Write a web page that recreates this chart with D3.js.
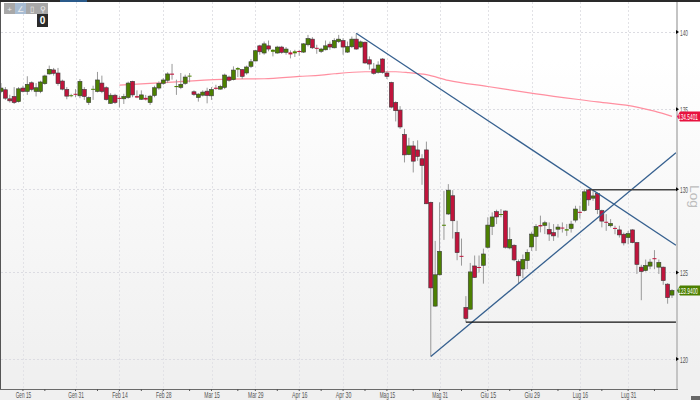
<!DOCTYPE html>
<html><head><meta charset="utf-8">
<script src="https://cdn.jsdelivr.net/npm/d3@7"></script>
<style>html,body{margin:0;padding:0;background:#fff}svg{display:block}text{font-family:"Liberation Sans Narrow","Liberation Sans",sans-serif}</style>
</head><body><div id="c"></div>
<script>
const open=[136.13,136.24,135.66,135.81,135.48,136.35,136.13,136.69,136.13,136.13,136.63,137.26,137.52,137.32,136.80,136.26,135.85,135.98,135.85,136.26,135.42,136.28,136.13,136.67,136.37,135.37,135.89,135.72,135.66,135.74,136.78,135.83,135.63,135.72,135.42,135.87,136.35,136.65,136.85,137.28,136.41,136.39,136.65,137.11,136.11,135.74,135.89,136.15,135.85,136.37,136.28,136.39,137.06,136.89,137.54,137.54,137.32,137.75,138.10,139.09,138.62,139.09,138.70,138.62,139.01,138.66,138.66,138.60,138.75,138.68,139.16,139.53,138.96,138.73,138.83,139.20,138.96,139.37,139.44,138.68,139.03,139.53,139.01,139.33,138.18,137.58,137.36,138.23,137.32,136.71,135.43,134.94,133.40,132.14,132.68,132.43,131.88,132.43,129.20,123.03,124.86,127.80,128.49,129.60,127.38,125.98,122.95,122.85,125.38,125.32,125.42,126.49,127.74,128.63,128.45,128.67,126.45,126.61,125.64,125.20,125.70,126.51,127.14,127.82,127.80,127.56,127.37,127.57,127.67,127.49,127.61,128.12,128.62,128.69,129.96,129.45,129.74,128.69,128.02,127.78,127.65,127.53,127.27,127.07,127.53,126.77,125.31,125.11,125.37,125.84,125.31,125.31,124.31,123.67];
const high=[136.67,136.41,135.92,136.41,136.41,136.50,137.11,136.78,136.67,136.82,137.21,137.80,137.65,137.65,136.89,136.41,135.98,136.28,136.93,136.41,135.81,136.50,137.39,137.15,136.46,136.02,135.98,135.85,135.98,136.76,136.82,136.20,136.20,135.91,135.91,136.50,136.78,137.00,137.37,137.91,136.89,137.32,137.21,137.32,136.20,136.02,136.20,136.37,136.41,136.56,136.56,137.28,137.15,137.75,137.71,137.58,137.80,138.23,138.83,139.16,139.37,139.44,138.88,139.09,139.09,139.01,138.79,138.83,138.83,139.27,139.81,139.66,139.16,138.96,139.44,139.37,139.59,139.81,139.59,139.37,139.70,139.91,139.44,139.37,138.40,137.97,138.08,138.29,137.43,136.76,135.50,135.19,133.75,133.19,132.99,133.03,132.16,132.95,129.24,126.87,129.20,129.90,130.31,129.94,128.08,127.01,123.61,125.56,126.00,126.00,126.41,128.29,128.59,128.75,128.79,128.71,127.68,126.67,125.76,126.06,126.37,127.42,127.88,128.39,128.08,127.98,127.88,127.88,127.98,127.88,128.08,128.99,128.99,130.00,130.00,130.00,129.80,128.75,128.48,128.18,127.78,127.78,127.37,127.47,127.57,126.81,125.45,125.76,125.80,126.32,125.76,125.35,124.37,124.02];
const low=[136.02,135.59,135.42,135.33,135.42,136.07,135.91,136.13,135.81,136.02,136.56,137.21,137.15,136.50,136.20,135.63,135.76,135.76,135.70,135.59,135.27,135.59,136.07,136.02,135.55,135.33,135.33,135.11,135.33,135.66,135.76,135.70,135.59,135.55,135.27,135.76,136.24,136.56,136.67,136.89,135.91,136.28,136.56,136.72,135.85,135.48,135.81,135.37,135.59,136.24,136.24,136.28,136.76,136.84,137.06,136.93,137.21,137.64,138.08,138.51,138.51,138.73,138.40,138.57,138.57,138.51,138.27,138.36,138.44,138.62,139.05,138.88,138.57,138.62,138.79,138.83,138.92,139.27,138.51,138.62,138.94,138.83,138.94,137.92,137.54,137.21,137.28,137.28,136.93,135.05,134.22,133.75,131.65,132.10,131.03,131.75,130.27,129.09,120.14,122.99,124.82,126.93,128.43,127.01,125.72,125.40,122.10,122.83,124.67,124.99,124.34,126.41,127.22,127.88,128.29,126.41,126.37,125.66,124.38,124.67,125.20,126.27,126.27,127.38,127.28,126.87,126.87,127.07,127.37,127.17,127.37,127.98,128.22,128.64,128.99,129.29,128.48,127.68,127.47,127.68,127.27,127.07,126.60,126.67,126.73,124.91,123.37,125.05,125.19,125.19,124.91,124.27,123.17,123.50];
const close=[136.35,135.70,135.53,135.42,136.30,136.13,136.59,136.26,136.37,136.74,137.13,137.56,137.30,136.63,136.28,135.83,135.89,135.94,136.78,135.81,135.74,136.30,136.87,136.13,135.61,135.89,135.42,135.68,135.81,136.67,135.91,135.74,135.91,135.61,135.83,136.37,136.65,136.87,137.26,137.21,136.48,136.59,137.06,137.15,135.94,135.96,136.09,135.87,136.26,136.30,136.46,137.19,136.85,137.51,137.64,137.10,137.71,138.05,138.77,138.70,139.22,138.88,138.83,139.01,138.66,138.88,138.53,138.73,138.70,139.22,139.57,138.96,138.92,138.88,139.09,139.01,139.44,139.53,139.01,139.05,139.53,138.88,139.35,137.97,137.90,137.30,137.84,137.36,137.10,135.13,134.90,133.87,132.12,132.68,131.73,132.02,131.46,129.11,124.09,124.86,126.25,127.84,129.94,128.08,126.17,125.92,122.31,125.03,124.70,125.28,126.09,127.82,128.31,128.31,128.49,126.49,126.95,125.74,124.80,125.76,126.19,127.28,127.74,127.74,127.96,127.28,127.17,127.70,127.61,127.57,127.88,128.79,128.56,129.84,129.35,129.59,128.75,128.06,127.96,127.92,127.61,127.23,126.75,127.31,126.77,125.47,125.05,125.41,125.61,125.78,125.59,124.52,123.52,123.94];
const maIndex=[27,40,52,60,68,73,76,83,90,93,97,102,111,122,136,145,149,153];
const maValues=[136.54,136.75,136.93,136.95,137.10,137.18,137.27,137.40,137.40,137.34,137.21,136.84,136.45,135.98,135.46,135.13,134.87,134.54];
const yTicks=[140,135,130,125,120];
const dateIndex=[5,17,27,37,48,58,68,78,88,100,111,121,132,143];
const dateLabels=["Gen 15","Gen 31","Feb 14","Feb 28","Mar 15","Mar 29","Apr 16","Apr 30","Mag 15","Mag 31","Giu 15","Giu 29","Lug 16","Lug 31"];
const minorIndex=[10,22,32,43,54,63,73,83,94,105,116,127,137,149];
const blueLineIndex=[[81,153.9],[98,153.9]];
const blueLinePrice=[[139.92,126.61],[120.14,132.26]];
const blackLineIndex=[[134,153.9],[106,153.9]];
const blackLinePrice=[[129.96,129.96],[122.1,122.1]];
const lastClose="123.9400", lastMA="134.5401";

const W=700,H=400,pr=676,pb=389;
const x=d3.scaleLinear().domain([0,153]).range([1,672]);
const y=d3.scaleLog().domain([140,120]).range([32,359]);
const svg=d3.select("#c").append("svg").attr("width",W).attr("height",H);
const defs=svg.append("defs");
const g=defs.append("linearGradient").attr("id","bg").attr("x1",0).attr("x2",0).attr("y1",0).attr("y2",1);
g.append("stop").attr("offset","15%").attr("stop-color","#fff");
g.append("stop").attr("offset","92%").attr("stop-color","#f0f0f0");
svg.append("rect").attr("width",W).attr("height",H).attr("fill","url(#bg)");
svg.append("rect").attr("y",389).attr("width",W).attr("height",11).attr("fill","#f0f0f0");

// grid
svg.append("g").selectAll("line").data(yTicks).join("line")
 .attr("x1",1).attr("x2",pr).attr("y1",d=>Math.round(y(d))+.5).attr("y2",d=>Math.round(y(d))+.5)
 .attr("stroke","#dcdce2").attr("stroke-dasharray","2,2");
svg.append("g").selectAll("line").data(dateIndex).join("line")
 .attr("x1",d=>Math.round(x(d))+.5).attr("x2",d=>Math.round(x(d))+.5).attr("y1",2).attr("y2",pb)
 .attr("stroke","#e2e2e6").attr("stroke-dasharray","2,2");

// MA
const ma=d3.line().x((d,i)=>x(maIndex[i])).y(d=>y(d)).curve(d3.curveMonotoneX);
svg.append("path").attr("d",ma(maValues)).attr("fill","none").attr("stroke","#ff8fa0").attr("stroke-width",1.2);

// candles
const idx=d3.range(open.length);
const cg=svg.append("g");
cg.selectAll("line").data(idx).join("line")
 .attr("x1",i=>x(i)).attr("x2",i=>x(i)).attr("y1",i=>y(high[i])).attr("y2",i=>y(low[i]))
 .attr("stroke","#999").attr("stroke-width",1);
const isUp=i=>close[i]>=open[i];
cg.selectAll("rect").data(idx).join("rect")
 .attr("x",i=>x(i)-2).attr("width",4)
 .attr("y",i=>y(Math.max(open[i],close[i])))
 .attr("height",i=>Math.max(1,Math.abs(y(open[i])-y(close[i]))))
 .attr("fill",i=>isUp(i)?"#4c8000":"#c0143c")
 .attr("stroke",i=>Math.abs(y(open[i])-y(close[i]))<2?"none":"#3a3a3a").attr("stroke-width",.6);

// trend lines
const tl=svg.append("g");
blueLineIndex.forEach((xs,k)=>tl.append("line").attr("x1",x(xs[0])).attr("x2",x(xs[1]))
 .attr("y1",y(blueLinePrice[k][0])).attr("y2",y(blueLinePrice[k][1])).attr("stroke","#36608f").attr("stroke-width",1.3));
blackLineIndex.forEach((xs,k)=>tl.append("line").attr("x1",x(xs[0])).attr("x2",x(xs[1]))
 .attr("y1",y(blackLinePrice[k][0])).attr("y2",y(blackLinePrice[k][1])).attr("stroke",k?"#111":"#444").attr("stroke-width",k?1.3:1.5));

// frame
svg.append("rect").attr("x",pr).attr("y",2).attr("width",2).attr("height",pb-1).attr("fill","#c4c4c4");
svg.append("rect").attr("x",0).attr("y",389).attr("width",pr+2).attr("height",1).attr("fill","#6a6a6a");
svg.append("rect").attr("x",0).attr("y",0).attr("width",1).attr("height",389).attr("fill","#555");
svg.append("rect").attr("width",W).attr("height",2).attr("fill","#2a2a2a");
svg.append("rect").attr("x",60).attr("width",27).attr("height",2).attr("fill","#2a5a8a");
svg.append("rect").attr("x",691).attr("y",396).attr("width",9).attr("height",4).attr("fill","#666");

// axis Y
const axY=d3.axisRight(y).tickValues(yTicks).tickSize(0).tickFormat(d3.format("d"));
const ya=svg.append("g").attr("transform",`translate(${pr+4},0)`).call(axY);
ya.select(".domain").remove();
ya.selectAll("text").attr("x",0).attr("font-size",9.5).attr("fill","#555").attr("textLength",8).attr("lengthAdjust","spacingAndGlyphs");
svg.append("g").selectAll("path").data(yTicks).join("path")
 .attr("d",d=>`M${pr},${y(d)-2}L${pr+3},${y(d)}L${pr},${y(d)+2}Z`).attr("fill","#000");

// axis X
const axX=d3.axisBottom(x).tickValues(dateIndex).tickSize(0).tickFormat((d,i)=>dateLabels[i]);
const xa=svg.append("g").attr("transform",`translate(0,${pb})`).call(axX);
xa.select(".domain").remove();
xa.selectAll("text").attr("y",2).attr("font-size",9.5).attr("fill","#555").attr("textLength",15.5).attr("lengthAdjust","spacingAndGlyphs");
svg.append("g").selectAll("line").data(dateIndex.concat(minorIndex)).join("line")
 .attr("x1",d=>x(d)).attr("x2",d=>x(d)).attr("y1",389).attr("y2",391).attr("stroke","#555");

// Price flags
function flag(v,txt,col){
 const py=y(v);
 svg.append("path").attr("d",`M${pr+1},${py}L${pr+4},${py-5}H700V${py+5}H${pr+4}Z`).attr("fill",col);
 svg.append("text").attr("x",688).attr("y",py+3.2).attr("text-anchor","middle").attr("font-size",9.5).attr("fill","#fff")
  .attr("textLength",20).attr("lengthAdjust","spacingAndGlyphs").text(txt);
}
flag(maValues[maValues.length-1],lastMA,"#e8123f");
flag(close[close.length-1],lastClose,"#4c8000");

// Log
svg.append("text").attr("transform","translate(690,185) rotate(90)").attr("font-size",12).attr("fill","#bdbdbd").attr("style",'font-family:"Liberation Sans"')
 .attr("textLength",23).attr("lengthAdjust","spacingAndGlyphs").text("Log");

// toolbar
const tb=svg.append("g");
tb.append("rect").attr("x",4).attr("y",3).attr("width",44).attr("height",11).attr("fill","#a8a8a8");
tb.append("rect").attr("x",15).attr("y",3).attr("width",11).attr("height",11).attr("fill","#a8bcd2");
tb.append("rect").attr("x",37).attr("y",14).attr("width",11).attr("height",13).attr("fill","#2a2a2a");
tb.append("text").attr("x",42.5).attr("y",24).attr("text-anchor","middle").attr("font-size",10).attr("font-weight","bold").attr("fill","#fff").text("0");
["+","∠","▯","⚲"].forEach((s,i)=>tb.append("text").attr("x",9.5+i*11).attr("y",11.5).attr("text-anchor","middle").attr("font-size",8).attr("fill","#eee").text(s));
</script></body></html>
